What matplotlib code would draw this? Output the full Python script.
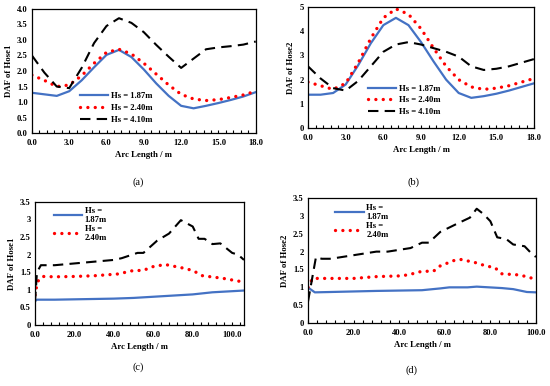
import matplotlib
matplotlib.use("Agg")
import matplotlib.pyplot as plt
from matplotlib.ticker import FixedLocator, MultipleLocator

plt.rcParams['font.family'] = ['Liberation Serif', 'DejaVu Serif']

labels = ["Hs = 1.87m", "Hs = 2.40m", "Hs = 4.10m"]
labels_wrapped = ["Hs =\n1.87m", "Hs =\n2.40m"]

# Panel (a): DAF of Hose1, short arc length
xa = [0, 1, 2, 3, 4, 5, 6, 7, 8, 9, 10, 11, 12, 13, 14, 15, 16, 17, 18]
a_187 = [1.30, 1.25, 1.20, 1.35, 1.70, 2.12, 2.52, 2.68, 2.45, 2.05, 1.60, 1.20, 0.88, 0.80, 0.88, 0.97, 1.07, 1.18, 1.32]
a_240 = [1.87, 1.70, 1.50, 1.55, 1.85, 2.25, 2.60, 2.70, 2.55, 2.25, 1.90, 1.55, 1.25, 1.10, 1.05, 1.08, 1.15, 1.23, 1.35]
a_410 = [2.50, 1.95, 1.50, 1.45, 2.10, 2.90, 3.45, 3.70, 3.55, 3.25, 2.84, 2.46, 2.10, 2.40, 2.70, 2.76, 2.80, 2.85, 2.95]

# Panel (b): DAF of Hose2, short arc length
xb = [0, 1, 2, 3, 4, 5, 6, 7, 8, 9, 10, 11, 12, 13, 14, 15, 16, 17, 18]
b_187 = [1.38, 1.38, 1.45, 1.80, 2.60, 3.50, 4.25, 4.55, 4.25, 3.55, 2.75, 2.00, 1.45, 1.25, 1.32, 1.42, 1.55, 1.70, 1.85]
b_240 = [1.90, 1.75, 1.60, 1.85, 2.70, 3.70, 4.55, 4.92, 4.70, 4.10, 3.30, 2.55, 2.00, 1.70, 1.60, 1.65, 1.75, 1.90, 2.05]
b_410 = [2.55, 2.05, 1.65, 1.55, 1.95, 2.55, 3.15, 3.45, 3.55, 3.45, 3.30, 3.15, 2.95, 2.55, 2.40, 2.45, 2.55, 2.70, 2.85]

# Panel (c): DAF of Hose1, full arc length
xc_187 = [0, 1, 10, 20, 30, 40, 50, 65, 80, 90, 106]
c_187 = [0.68, 0.72, 0.72, 0.73, 0.74, 0.75, 0.77, 0.82, 0.87, 0.93, 0.98]
xc_240 = [0, 1, 2, 4, 10, 20, 30, 42, 50, 55, 59, 66, 75, 80, 85, 95, 106]
c_240 = [0.85, 1.15, 1.30, 1.38, 1.37, 1.38, 1.40, 1.45, 1.55, 1.55, 1.65, 1.72, 1.62, 1.55, 1.40, 1.33, 1.22]
xc_410 = [0, 1, 3, 10, 20, 30, 40, 44, 52, 55, 62, 68, 74, 80, 83, 86, 90, 94, 100, 103, 106]
c_410 = [0.65, 1.50, 1.70, 1.70, 1.75, 1.80, 1.85, 1.90, 2.05, 2.05, 2.40, 2.60, 2.98, 2.80, 2.45, 2.45, 2.30, 2.32, 2.05, 2.00, 1.85]

# Panel (d): DAF of Hose2, full arc length
xd_187 = [0, 1, 3, 10, 30, 50, 58, 62, 70, 74, 85, 90, 96, 100]
d_187 = [1.00, 0.95, 0.86, 0.87, 0.90, 0.92, 0.97, 1.00, 1.00, 1.02, 0.98, 0.95, 0.87, 0.86]
xd_240 = [0, 2, 20, 30, 40, 44, 50, 55, 58, 64, 67, 73, 78, 82, 85, 92, 96, 100]
d_240 = [1.00, 1.25, 1.25, 1.30, 1.32, 1.35, 1.45, 1.45, 1.60, 1.75, 1.78, 1.70, 1.60, 1.55, 1.38, 1.35, 1.30, 1.22]
xd_410 = [0, 3.5, 6, 10, 20, 25, 30, 35, 40, 45, 50, 53, 58, 66, 71, 74, 77, 80, 83, 87, 90, 95, 98, 100]
d_410 = [0.60, 1.85, 1.80, 1.80, 1.90, 1.95, 2.00, 2.00, 2.05, 2.10, 2.25, 2.25, 2.55, 2.80, 2.95, 3.20, 3.05, 2.85, 2.40, 2.35, 2.20, 2.15, 1.95, 1.85]

BLUE = "#4472C4"
RED = "#FF0000"
fs = 6.2

fig = plt.figure(figsize=(5.5, 3.86), dpi=100)

def style(ax, xticks, xlab, yticks, ylab_fmt, ylabel, xlim, ylim, xminor):
    ax.set_xlim(*xlim)
    ax.set_ylim(*ylim)
    ax.set_xticks(xticks)
    ax.set_xticklabels([f"{v:.1f}" for v in xticks], fontsize=fs, fontweight='bold')
    ax.set_yticks(yticks)
    ax.set_yticklabels([ylab_fmt(v) for v in yticks], fontsize=fs, fontweight='bold')
    ax.xaxis.set_minor_locator(MultipleLocator(xminor))
    ax.tick_params(axis='x', which='both', direction='in', length=2.5, width=0.8, pad=4)
    ax.tick_params(axis='y', which='both', direction='in', length=0, pad=3)
    ax.set_xlabel(xlab, fontsize=fs + 0.1, fontweight='bold', labelpad=3)
    ax.set_ylabel(ylabel, fontsize=fs + 0.1, fontweight='bold', labelpad=3)
    for s in ax.spines.values():
        s.set_linewidth(0.9)

def draw(ax, x1, y1, x2, y2, x3, y3):
    l1, = ax.plot(x1, y1, color=BLUE, lw=1.6)
    l2, = ax.plot(x2, y2, color=RED, lw=2.4, linestyle=(0, (0.01, 2.2)), dash_capstyle='round')
    l3, = ax.plot(x3, y3, color='black', lw=1.5, linestyle=(0, (5, 3)))
    return l1, l2, l3

def fmt1(v):
    return f"{v:.1f}"

def fmtg(v):
    return f"{v:g}"

# (a)
ax_a = fig.add_axes([0.058, 0.655, 0.407, 0.322])
h = draw(ax_a, xa, a_187, xa, a_240, xa, a_410)
style(ax_a, [0, 3, 6, 9, 12, 15, 18], "Arc Length / m", [0, 0.5, 1, 1.5, 2, 2.5, 3, 3.5, 4], fmt1,
      "DAF of Hose1", (0, 18), (0, 4), 0.6)
ax_a.legend(h, labels, loc='upper left', bbox_to_anchor=(0.215, 0.33), frameon=False,
            prop={'size': fs, 'weight': 'bold'}, handlelength=3.3, handletextpad=0.3,
            borderpad=0, borderaxespad=0, labelspacing=0.45)

# (b)
ax_b = fig.add_axes([0.56, 0.668, 0.411, 0.314])
h = draw(ax_b, xb, b_187, xb, b_240, xb, b_410)
style(ax_b, [0, 3, 6, 9, 12, 15, 18], "Arc Length / m", [0, 1, 2, 3, 4, 5], fmtg,
      "DAF of Hose2", (0, 18), (0, 5), 0.6)
ax_b.legend(h, labels, loc='upper left', bbox_to_anchor=(0.265, 0.36), frameon=False,
            prop={'size': fs, 'weight': 'bold'}, handlelength=3.3, handletextpad=0.3,
            borderpad=0, borderaxespad=0, labelspacing=0.45)

# (c)
ax_c = fig.add_axes([0.0636, 0.158, 0.38, 0.319])
h = draw(ax_c, xc_187, c_187, xc_240, c_240, xc_410, c_410)
style(ax_c, [0, 20, 40, 60, 80, 100], "Arc Length / m", [0, 0.5, 1, 1.5, 2, 2.5, 3, 3.5], fmtg,
      "DAF of Hose1", (0, 106), (0, 3.5), 4)
ax_c.legend(h[:2], labels_wrapped, loc='upper left', bbox_to_anchor=(0.09, 0.96), frameon=False,
            prop={'size': fs, 'weight': 'bold'}, handlelength=3.3, handletextpad=0.3,
            borderpad=0, borderaxespad=0, labelspacing=0.1)

# (d)
ax_d = fig.add_axes([0.56, 0.163, 0.4145, 0.324])
h = draw(ax_d, xd_187, d_187, xd_240, d_240, xd_410, d_410)
style(ax_d, [0, 20, 40, 60, 80, 100], "Arc Length / m", [0, 0.5, 1, 1.5, 2, 2.5, 3, 3.5], fmtg,
      "DAF of Hose2", (0, 100), (0, 3.5), 4)
ax_d.legend(h[:2], labels_wrapped, loc='upper left', bbox_to_anchor=(0.12, 0.955), frameon=False,
            prop={'size': fs, 'weight': 'bold'}, handlelength=3.3, handletextpad=0.3,
            borderpad=0, borderaxespad=0, labelspacing=0.1)

# captions
for txt, xp, yp in [("(a)", 138, 182), ("(b)", 413, 182), ("(c)", 138, 367), ("(d)", 412, 370)]:
    fig.text(xp / 550, 1 - yp / 386, txt, ha='center', va='center', fontsize=7.5)

fig.savefig("out.png", dpi=100)
